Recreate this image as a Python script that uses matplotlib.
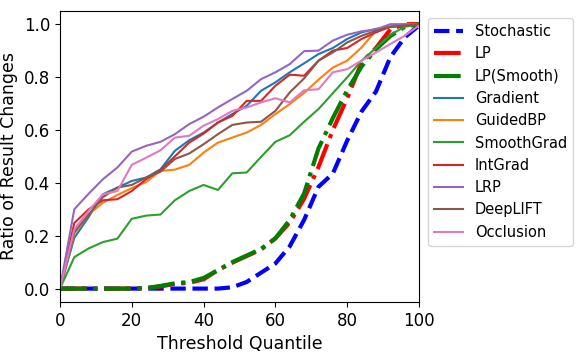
import numpy as np
import matplotlib
matplotlib.use('Agg')
import matplotlib.pyplot as plt

quantiles = list(range(0, 101, 4))

stochastic = [0, 0, 0, 0, 0, 0, 0, 0, 0, 0, 0, 0, 0.005, 0.025, 0.06, 0.095,
              0.16, 0.26, 0.385, 0.435, 0.56, 0.67, 0.745, 0.875, 0.95, 0.995]
lp = [0, 0, 0, 0, 0, 0, 0.002, 0.008, 0.018, 0.022, 0.035, 0.07, 0.098, 0.123,
      0.148, 0.19, 0.25, 0.34, 0.46, 0.6, 0.72, 0.855, 0.91, 0.98, 1.0, 1.0]
lp_smooth = [0, 0, 0, 0, 0, 0, 0.002, 0.01, 0.02, 0.025, 0.04, 0.07, 0.1, 0.125,
             0.15, 0.19, 0.26, 0.36, 0.53, 0.645, 0.75, 0.84, 0.905, 0.955, 0.99, 1.0]
gradient = [0, 0.192, 0.271, 0.357, 0.382, 0.407, 0.42, 0.451, 0.521, 0.561, 0.59,
            0.628, 0.66, 0.691, 0.748, 0.78, 0.818, 0.852, 0.887, 0.91, 0.944,
            0.969, 0.982, 0.99, 0.995, 1.0]
guided_bp = [0, 0.208, 0.281, 0.325, 0.354, 0.38, 0.403, 0.445, 0.45, 0.468, 0.514,
             0.552, 0.571, 0.59, 0.619, 0.66, 0.698, 0.74, 0.79, 0.836, 0.862,
             0.912, 0.975, 0.99, 1.0, 1.0]
smooth_grad = [0, 0.119, 0.152, 0.176, 0.189, 0.264, 0.276, 0.28, 0.334, 0.369,
               0.392, 0.373, 0.436, 0.439, 0.498, 0.555, 0.58, 0.631, 0.679, 0.739,
               0.799, 0.862, 0.91, 0.96, 0.99, 1.0]
int_grad = [0, 0.248, 0.30, 0.334, 0.338, 0.369, 0.414, 0.448, 0.50, 0.552, 0.586,
            0.628, 0.653, 0.71, 0.71, 0.767, 0.809, 0.805, 0.862, 0.9, 0.91,
            0.944, 0.969, 0.99, 0.995, 1.0]
lrp = [0, 0.30, 0.359, 0.414, 0.458, 0.518, 0.54, 0.555, 0.584, 0.622, 0.65,
       0.685, 0.717, 0.748, 0.792, 0.818, 0.849, 0.898, 0.9, 0.938, 0.96, 0.973,
       0.98, 1.0, 1.0, 1.0]
deeplift = [0, 0.214, 0.28, 0.346, 0.382, 0.392, 0.42, 0.442, 0.49, 0.511, 0.546,
            0.584, 0.619, 0.628, 0.631, 0.672, 0.742, 0.795, 0.862, 0.893, 0.931,
            0.956, 0.975, 0.99, 0.995, 1.0]
occlusion = [0, 0.224, 0.294, 0.357, 0.369, 0.468, 0.495, 0.523, 0.571, 0.578,
             0.616, 0.641, 0.672, 0.685, 0.704, 0.72, 0.704, 0.75, 0.754, 0.818,
             0.83, 0.862, 0.893, 0.925, 0.956, 0.995]

fig = plt.figure(figsize=(5.82, 3.53), dpi=100)
ax = fig.add_axes((0.103, 0.145, 0.617, 0.824))

ax.plot(quantiles, stochastic, 'b--', lw=3, label='Stochastic')
ax.plot(quantiles, lp, 'r-.', lw=3, label='LP')
ax.plot(quantiles, lp_smooth, 'g-.', lw=3, label='LP(Smooth)')
ax.plot(quantiles, gradient, label='Gradient')
ax.plot(quantiles, guided_bp, label='GuidedBP')
ax.plot(quantiles, smooth_grad, label='SmoothGrad')
ax.plot(quantiles, int_grad, label='IntGrad')
ax.plot(quantiles, lrp, label='LRP')
ax.plot(quantiles, deeplift, label='DeepLIFT')
ax.plot(quantiles, occlusion, label='Occlusion')

ax.set_xlim(0, 100)
ax.set_xlabel('Threshold Quantile', fontsize=12.5)
ax.set_ylabel('Ratio of Result Changes', fontsize=12.5)
ax.tick_params(labelsize=12)
ax.legend(loc='upper left', bbox_to_anchor=(1.005, 1.0), fontsize=10.5)

fig.savefig('out.png', dpi=100)
